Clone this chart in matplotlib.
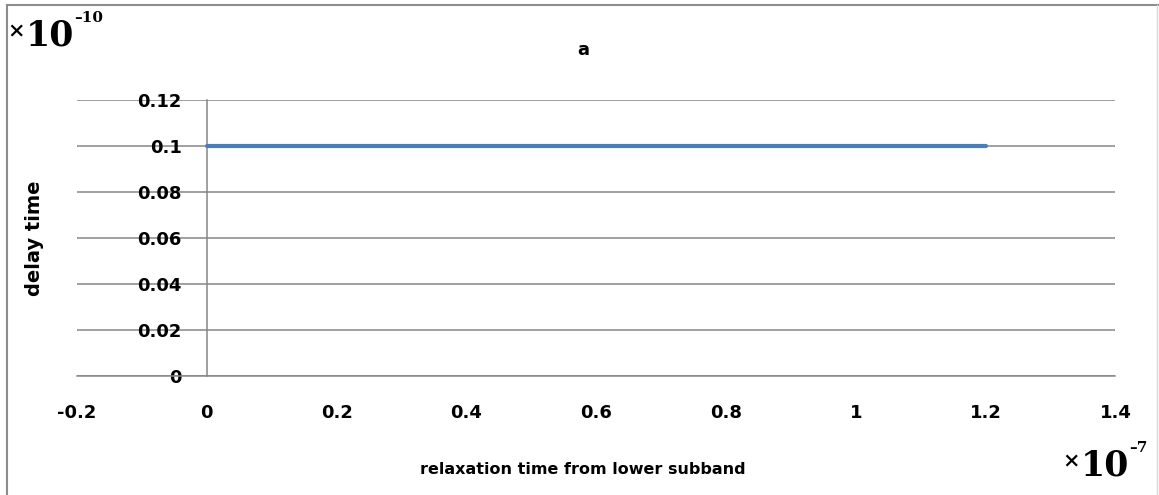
import matplotlib.pyplot as plt
from matplotlib.lines import Line2D

# data
relax = [0.0, 0.2, 0.4, 0.6, 0.8, 1.0, 1.2]
delay = [0.1, 0.1, 0.1, 0.1, 0.1, 0.1, 0.1]
xticks = [-0.2, 0, 0.2, 0.4, 0.6, 0.8, 1, 1.2, 1.4]
xlabels = ['-0.2', '0', '0.2', '0.4', '0.6', '0.8', '1', '1.2', '1.4']
yticks = [0, 0.02, 0.04, 0.06, 0.08, 0.1, 0.12]
ylabels = ['0', '0.02', '0.04', '0.06', '0.08', '0.1', '0.12']

grid_col = '#868686'
font = 'DejaVu Sans'
serif = 'DejaVu Serif'
W, H = 1159.0, 495.0

fig = plt.figure(figsize=(11.59, 4.95), dpi=100)
ax = fig.add_axes([0.0664, 0.2404, 0.896, 0.558])

ax.plot(relax, delay, color='#4A7EBB', lw=3.0, solid_capstyle='round', zorder=3)

ax.set_xlim(-0.2, 1.4)
ax.set_ylim(0, 0.12)
ax.set_xticks(xticks)
ax.set_xticklabels(xlabels)
ax.set_yticks(yticks)
ax.set_yticklabels(ylabels)

ax.spines['left'].set_position(('data', 0))
ax.spines['left'].set_color(grid_col)
ax.spines['left'].set_linewidth(1.1)
ax.spines['bottom'].set_color(grid_col)
ax.spines['bottom'].set_linewidth(1.1)
ax.spines['top'].set_visible(False)
ax.spines['right'].set_visible(False)

ax.yaxis.grid(True, color=grid_col, lw=1.1)
ax.set_axisbelow(True)

ax.tick_params(axis='y', length=0, pad=18)
ax.tick_params(axis='x', length=0, pad=20)
for lab in ax.get_xticklabels() + ax.get_yticklabels():
    lab.set_fontfamily(font)
    lab.set_fontweight('bold')
    lab.set_fontsize(13)

fig.text(0.503, 1 - 50 / H, 'a', ha='center', va='center', fontfamily=font,
         fontweight='bold', fontsize=13)
fig.text(35 / W, 1 - 238 / H, 'delay time', ha='center', va='center',
         rotation=90, fontfamily=font, fontweight='bold', fontsize=14)
fig.text(583 / W, 1 - 470 / H, 'relaxation time from lower subband',
         ha='center', va='center', fontfamily=font, fontweight='bold',
         fontsize=11.5)


# scale factors: "×10" with a small raised exponent
def scale_label(x, base, exp):
    fig.text(x / W, 1 - (base - 9) / H, '\u00d7', fontfamily=serif,
             fontweight='bold', fontsize=15, ha='left', va='baseline')
    fig.text((x + 19) / W, 1 - base / H, '10', fontfamily=serif,
             fontweight='bold', fontsize=25, ha='left', va='baseline')
    fig.text((x + 67) / W, 1 - (base - 23) / H, exp, fontfamily=serif,
             fontweight='bold', fontsize=11, ha='left', va='baseline')


scale_label(7, 45, '\u2013' + '10')
scale_label(1062, 475, '\u2013' + '7')

# frame around the figure (bottom edge cut off)
fig.add_artist(Line2D([0.006, 0.006], [0.0, 0.990], transform=fig.transFigure,
                      color='#8c8c8c', lw=1.5))
fig.add_artist(Line2D([0.006, 0.999], [0.990, 0.990], transform=fig.transFigure,
                      color='#8c8c8c', lw=1.5))
fig.add_artist(Line2D([0.9985, 0.9985], [0.0, 0.990], transform=fig.transFigure,
                      color='#d9d9d9', lw=1.0))

fig.savefig('out.png', dpi=100)
